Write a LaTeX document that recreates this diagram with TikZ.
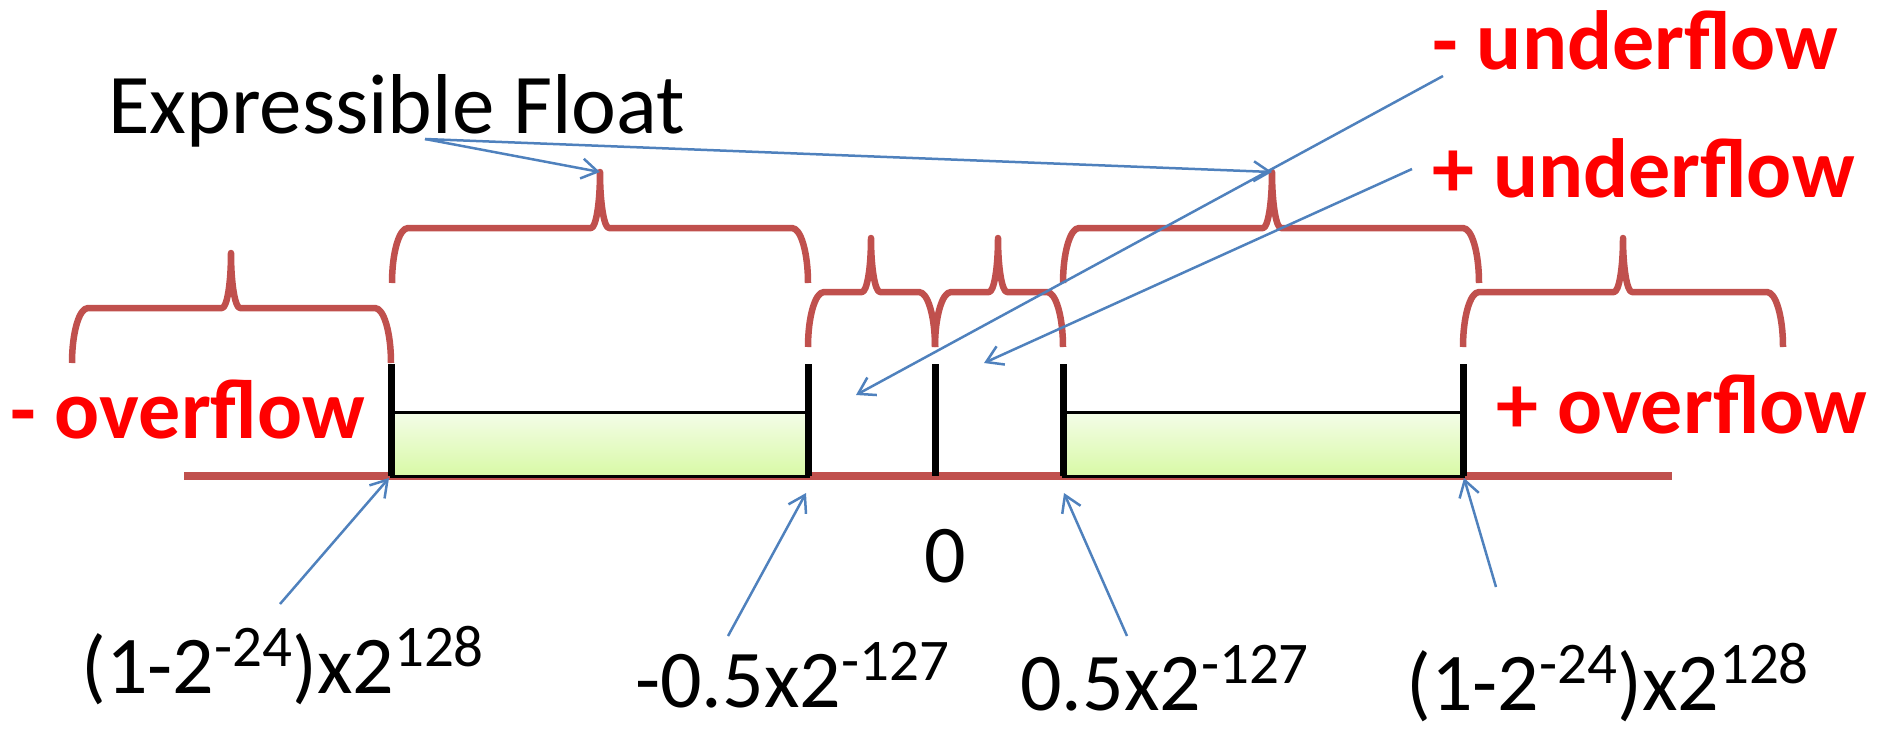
\documentclass[tikz,border=0pt]{standalone}
\usepackage{fontspec}
\setmainfont{Carlito}
\usetikzlibrary{arrows.meta}

\definecolor{bracered}{HTML}{C0504D}
\definecolor{arrowblue}{HTML}{4F81BD}
\definecolor{labelred}{HTML}{FF0000}
\definecolor{boxtop}{HTML}{F4FDE8}
\definecolor{boxbottom}{HTML}{D8F9A6}

\tikzset{
  bracestyle/.style={draw=bracered, line width=6.5pt, line cap=butt, line join=round},
  axisline/.style={draw=bracered, line width=7.5pt},
  tickline/.style={draw=black, line width=7pt},
  rangebox/.style={draw=black, line width=3pt, top color=boxtop, bottom color=boxbottom},
  pointer/.style={draw=arrowblue, line width=2.5pt, -{Straight Barb[length=16pt,width=20pt,line width=2.5pt]}},
  bigred/.style={text=labelred, font=\fontsize{84}{90}\selectfont\bfseries, inner sep=0pt, anchor=base west},
  titlelabel/.style={text=black, font=\fontsize{85}{90}\selectfont, inner sep=0pt, anchor=base west},
  plainlabel/.style={text=black, font=\fontsize{82}{90}\selectfont, inner sep=0pt, anchor=base west},
}

% superscript exponent
\newcommand\expo[1]{\raisebox{27pt}{\fontsize{59}{60}\selectfont #1}}

% curly brace: name, left x, right x, tip x, end y, bar y, tip y
\newcommand\redbrace[7]{%
  \draw[bracestyle] (#2,#5)
     .. controls (#2,{#5+0.552*(#6-#5)}) and ({#2+16-0.552*16},#6) .. ({#2+16},#6)
     -- ({#4-9},#6)
     .. controls ({#4-9+0.552*9},#6) and (#4,{#7+0.552*(#6-#7)}) .. (#4,#7)
     .. controls (#4,{#7+0.552*(#6-#7)}) and ({#4+9-0.552*9},#6) .. ({#4+9},#6)
     -- ({#3-16},#6)
     .. controls ({#3-16+0.552*16},#6) and (#3,{#5+0.552*(#6-#5)}) .. (#3,#5);
  \coordinate (#1) at (#4,#7);
}

\begin{document}
\begin{tikzpicture}[x=1pt,y=-1pt]
\useasboundingbox (0,0) rectangle (1895,729);

% number line
\coordinate (axisL) at (184,476);
\coordinate (axisR) at (1672,476);
\draw[axisline] (axisL) -- (axisR);

% ranges of expressible values
\draw[rangebox] (391,412) rectangle (808,476);
\draw[rangebox] (1063,412) rectangle (1463,476);

% boundary ticks
\foreach \n/\x in {t1/391, t2/808, t3/935, t4/1063, t5/1463} {
  \draw[tickline] (\x,364) -- (\x,476);
  \coordinate (\n) at (\x,476);
}

% braces over the regions
\redbrace{negover}{72}{391}{231}{363}{308}{253}
\redbrace{negexpr}{392}{808}{600}{283}{228}{172}
\redbrace{negunder}{808}{935}{871}{347}{292}{238}
\redbrace{posunder}{935}{1063}{998}{347}{292}{238}
\redbrace{posexpr}{1063}{1479}{1272}{283}{228}{172}
\redbrace{posover}{1463}{1783}{1623}{347}{292}{238}

% region names
\node[bigred] (lnegover) at (10,438) {- overflow};
\node[bigred] (lposover) at (1496,433) {+ overflow};
\node[bigred] (lnegunder) at (1432,69) {- underflow};
\node[bigred] (lposunder) at (1432,197) {+ underflow};
\node[titlelabel] (lexpr) at (108,133) {Expressible Float};

% values at the boundaries
\node[plainlabel] (lzero) at (924,582) {0};
\node[plainlabel] (lv1) at (81,693) {(1-2\expo{-24})x2\expo{128}};
\node[plainlabel] (lv2) at (635,707) {-0.5x2\expo{-127}};
\node[plainlabel] (lv3) at (1020,710) {0.5x2\expo{-127}};
\node[plainlabel] (lv4) at (1406,710) {(1-2\expo{-24})x2\expo{128}};

% pointer tails and heads
\coordinate (pexpr) at (425,139);
\coordinate (pnu) at (1443,76);
\coordinate (pnuend) at (856,395);
\coordinate (ppu) at (1412,169);
\coordinate (ppuend) at (984,363);
\coordinate (pv1) at (280,604);
\coordinate (pv1end) at (389,478);
\coordinate (pv2) at (728,636);
\coordinate (pv2end) at (806,493);
\coordinate (pv3) at (1127,636);
\coordinate (pv3end) at (1064,493);
\coordinate (pv4) at (1496,587);
\coordinate (pv4end) at (1464,478);

\draw[pointer] (pexpr) -- (negexpr);
\draw[pointer] (pexpr) -- (posexpr);
\draw[pointer] (pnu) -- (pnuend);
\draw[pointer] (ppu) -- (ppuend);
\draw[pointer] (pv1) -- (pv1end);
\draw[pointer] (pv2) -- (pv2end);
\draw[pointer] (pv3) -- (pv3end);
\draw[pointer] (pv4) -- (pv4end);
\end{tikzpicture}
\end{document}
